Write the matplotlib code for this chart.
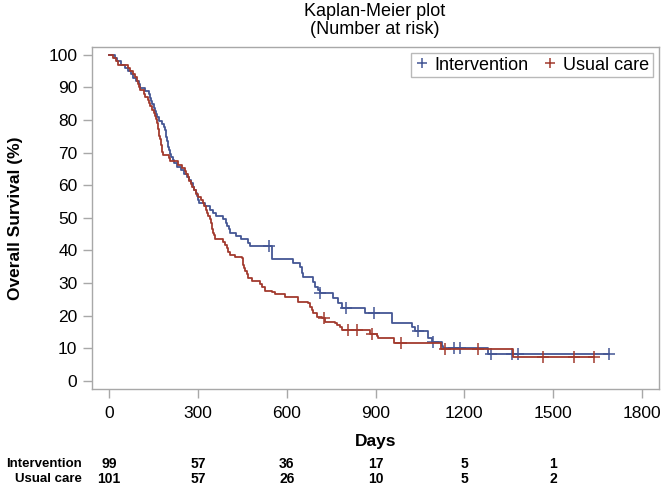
import matplotlib
matplotlib.use("Agg")
import matplotlib.pyplot as plt
import numpy as np

# ---------------- data ----------------
# Intervention (step times in days, survival % after each step)
int_t = [0, 20, 28, 40, 55, 62, 75, 82, 92, 100, 104, 122, 135, 138, 141, 144, 150, 155,
         158, 160, 170, 180, 185, 188, 191, 193, 196, 198, 200, 203, 207, 210, 215, 220,
         230, 243, 254, 262, 270, 275, 282, 288, 292, 296, 300, 305, 325, 340, 352, 362,
         385, 395, 398, 404, 410, 430, 445, 470, 476, 549, 622, 645, 650, 656, 690, 696,
         707, 712, 757, 774, 786, 865, 955, 1022, 1034, 1079, 1090, 1124, 1129, 1281]
int_s = [100, 99.0, 98.0, 97.0, 96.0, 95.0, 94.0, 93.0, 92.0, 91.0, 89.9, 88.9, 87.9, 86.9,
         85.9, 84.8, 83.8, 82.8, 81.8, 80.8, 79.8, 78.8, 77.8, 76.8, 75.8, 74.7, 73.7, 72.7,
         71.7, 70.7, 69.7, 68.7, 67.7, 66.7, 65.7, 64.6, 63.6, 62.6, 61.6, 60.6, 59.6, 58.6,
         57.6, 56.6, 55.6, 54.5, 53.5, 52.5, 51.5, 50.5, 49.5, 48.5, 47.5, 46.5, 45.5, 44.4,
         43.4, 42.4, 41.3, 37.3, 36.0, 34.8, 33.2, 31.9, 30.4, 28.9, 27.8, 26.8, 25.3, 23.8,
         22.2, 20.7, 17.8, 16.6, 15.4, 13.0, 11.8, 10.7, 10.1, 8.3]
int_end = 1690
int_cens = [540, 714, 800, 895, 1045, 1095, 1165, 1186, 1290, 1360, 1383, 1690]

# Usual care
uc_t = [0, 12, 22, 30, 65, 72, 80, 88, 93, 97, 100, 104, 118, 122, 130, 136, 139, 145, 150,
        155, 158, 161, 164, 166, 168, 170, 172, 174, 176, 178, 180, 183, 203, 207, 233, 247,
        255, 260, 265, 270, 275, 280, 285, 293, 300, 310, 318, 322, 327, 331, 335, 340, 343,
        346, 349, 352, 355, 357, 385, 390, 397, 403, 408, 425, 448, 453, 456, 459, 465, 470,
        481, 509, 515, 526, 549, 560, 594, 639, 673, 679, 685, 690, 701, 718, 729, 763, 769,
        780, 786, 882, 904, 909, 962, 1120, 1366]
uc_s = [100, 99.0, 98.0, 97.0, 96.0, 95.0, 94.1, 93.1, 92.1, 91.1, 90.1, 89.1, 88.1, 87.1,
        86.1, 85.1, 84.2, 83.2, 82.2, 81.2, 80.2, 79.2, 78.2, 77.2, 76.2, 75.2, 74.3, 73.3,
        72.3, 71.3, 70.3, 69.3, 68.3, 67.3, 66.3, 65.3, 64.4, 63.4, 62.4, 61.4, 60.4, 59.4,
        58.4, 57.4, 56.4, 55.4, 54.5, 53.5, 52.5, 51.5, 50.5, 49.5, 48.5, 47.5, 46.5, 45.5,
        44.6, 43.6, 42.6, 41.6, 40.6, 39.6, 38.6, 38.0, 37.6, 35.6, 34.7, 33.7, 32.7, 31.7,
        30.7, 29.7, 28.7, 27.7, 27.2, 26.7, 25.7, 24.3, 23.8, 22.7, 21.7, 20.7, 19.7, 19.2,
        18.1, 17.6, 17.1, 16.6, 15.6, 14.3, 13.7, 13.0, 11.5, 9.9, 7.2]
uc_end = 1640
uc_cens = [726, 808, 838, 887, 985, 1135, 1245, 1465, 1572, 1640]

risk_times = [0, 300, 600, 900, 1200, 1500]
risk_int = [99, 57, 36, 17, 5, 1]
risk_uc = [101, 57, 26, 10, 5, 2]
groups = ["Intervention", "Usual care"]
xticks = [0, 300, 600, 900, 1200, 1500, 1800]
yticks = list(range(0, 101, 10))

# ---------------- style ----------------
BLUE = "#445694"
RED = "#A23A2E"
GRAY = "#a8a8a8"
plt.rcParams["font.family"] = ["Liberation Sans", "DejaVu Sans"]

fig = plt.figure(figsize=(6.61, 4.86), dpi=100)
AX_L, AX_R, AX_T, AX_B = 92, 659, 46.7, 389
ax = fig.add_axes([AX_L / 661, 1 - AX_B / 486, (AX_R - AX_L) / 661, (AX_B - AX_T) / 486])


def step_xy(t, s, end):
    x = list(t) + [end]
    y = list(s) + [s[-1]]
    return x, y


def surv_at(t, s, times):
    t = np.asarray(t)
    s = np.asarray(s)
    idx = np.searchsorted(t, times, side="right") - 1
    return s[idx]


for t, s, end, cens, col, lab in [(int_t, int_s, int_end, int_cens, BLUE, groups[0]),
                                  (uc_t, uc_s, uc_end, uc_cens, RED, groups[1])]:
    x, y = step_xy(t, s, end)
    ax.step(x, y, where="post", color=col, lw=1.3)
    ax.plot(cens, surv_at(t, s, cens), ls="none", marker="+", ms=9, mew=1.1,
            color=col, label=lab)

ax.set_xlim(-58, 1858)
ax.set_ylim(-2.5, 102.5)
ax.set_xticks(xticks)
ax.set_yticks(yticks)
ax.tick_params(axis="both", colors=GRAY, labelcolor="black", labelsize=12.5,
               length=6.5, width=1)
ax.tick_params(axis="y", pad=4)
ax.tick_params(axis="x", pad=6)
for sp in ax.spines.values():
    sp.set_color(GRAY)
    sp.set_linewidth(1)

ax.set_xlabel("Days", fontsize=12.5, fontweight="bold")
ax.xaxis.set_label_coords(0.5, -(434 - AX_B) / (AX_B - AX_T))
ax.set_ylabel("Overall Survival (%)", fontsize=12.5, fontweight="bold")
ax.yaxis.set_label_coords(-(AX_L - 23) / (AX_R - AX_L), 0.5)

fig.text(375 / 661, 1 - 11 / 486, "Kaplan-Meier plot", ha="center", va="center", fontsize=13)
fig.text(375 / 661, 1 - 29 / 486, "(Number at risk)", ha="center", va="center", fontsize=13)

leg = ax.legend(loc="upper right", ncol=2, fontsize=13, frameon=True, fancybox=False,
                borderaxespad=0.35, handletextpad=0.3, columnspacing=0.8,
                handlelength=0.8, borderpad=0.2, markerscale=0.75)
leg.get_frame().set_edgecolor(GRAY)
leg.get_frame().set_linewidth(1)

# number-at-risk table
trans = ax.get_xaxis_transform()
for row_px, lab, vals in [(464, groups[0], risk_int), (479, groups[1], risk_uc)]:
    fig.text(82 / 661, 1 - row_px / 486, lab, ha="right", va="center",
             fontsize=9.5, fontweight="bold")
    row_y = -(row_px - AX_B) / (AX_B - AX_T)
    for tt, v in zip(risk_times, vals):
        ax.text(tt, row_y, str(v), transform=trans, ha="center", va="center",
                fontsize=10, fontweight="bold", clip_on=False)

fig.savefig("out.png", dpi=100)
